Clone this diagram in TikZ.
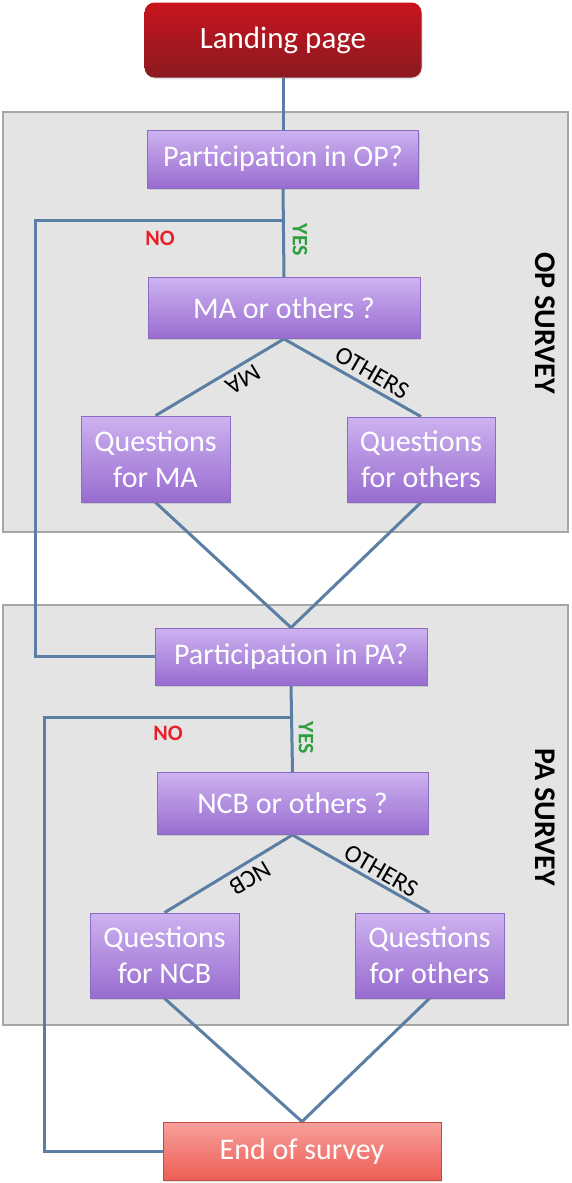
\documentclass[tikz,border=0pt]{standalone}
\usepackage{fontspec}
\setmainfont{Carlito}
\usetikzlibrary{shadows}
\definecolor{linkc}{HTML}{5B7EA4}
\definecolor{purtop}{HTML}{CDB2F0}
\definecolor{purbot}{HTML}{986CD0}
\definecolor{purdraw}{HTML}{8C6CC2}
\definecolor{panelfill}{HTML}{E4E4E4}
\definecolor{paneldraw}{HTML}{A6A6A6}
\definecolor{nored}{HTML}{E8202A}
\definecolor{yesgreen}{HTML}{2E9E3E}
\definecolor{landtop}{HTML}{C8141E}
\definecolor{landbot}{HTML}{8A1A20}
\definecolor{endtop}{HTML}{F7A09C}
\definecolor{endbot}{HTML}{EE5E55}
\pgfdeclarelayer{bg}
\pgfdeclarelayer{mid}
\pgfsetlayers{bg,mid,main}
\tikzset{
  pbox/.style={draw=purdraw, line width=0.8pt, top color=purtop, bottom color=purbot,
    text=white, font=\fontsize{30}{36}\selectfont, align=center, inner sep=0pt,
    drop shadow={opacity=0.25, shadow xshift=1pt, shadow yshift=-1.5pt}},
  landbox/.style={draw=none, rounded corners=10pt, top color=landtop, bottom color=landbot,
    text=white, font=\fontsize{31}{36}\selectfont, inner sep=0pt,
    drop shadow={opacity=0.25, shadow xshift=1pt, shadow yshift=-1.5pt}},
  endbox/.style={draw=endbot!80!black, line width=0.8pt, top color=endtop, bottom color=endbot,
    text=white, font=\fontsize{30}{36}\selectfont, inner sep=0pt,
    drop shadow={opacity=0.25, shadow xshift=1pt, shadow yshift=-1.5pt}},
  panel/.style={draw=paneldraw, line width=1.5pt, fill=panelfill, inner sep=0pt},
  link/.style={draw=linkc, line width=3pt},
  nolabel/.style={text=nored, font=\bfseries\fontsize{22}{22}\selectfont, inner sep=0pt},
  yeslabel/.style={text=yesgreen, font=\bfseries\fontsize{22}{22}\selectfont, inner sep=0pt, rotate=-90},
  branchlabel/.style={text=black, font=\fontsize{25}{25}\selectfont, inner sep=0pt},
  sectionlabel/.style={text=black, font=\bfseries\fontsize{30}{30}\selectfont, inner sep=0pt, rotate=-90}
}
\begin{document}
\begin{tikzpicture}[x=1pt,y=-1pt]
\useasboundingbox (0,0) rectangle (571,1183);
% panels
\begin{pgfonlayer}{bg}
\node[panel, minimum width=565pt, minimum height=420pt] (opp) at (285.5,322) {};
\node[panel, minimum width=565pt, minimum height=420pt] (pap) at (285.5,815) {};
\end{pgfonlayer}
\node[sectionlabel] (opl) at (545,323) {OP SURVEY};
\node[sectionlabel] (pal) at (545,817) {PA SURVEY};
% boxes
\node[landbox, minimum width=277pt, minimum height=75pt] (land) at (283,40) {Landing page};
\node[pbox, minimum width=271pt, minimum height=58pt] (opq) at (283,159) {Participation in OP?};
\node[pbox, minimum width=272pt, minimum height=61pt] (maq) at (284,308) {MA or others ?};
\node[pbox, minimum width=149pt, minimum height=86pt] (qma) at (155.5,459) {Questions\\for MA};
\node[pbox, minimum width=148pt, minimum height=85pt] (qoo) at (421,459.5) {Questions\\for others};
\node[pbox, minimum width=272pt, minimum height=57pt] (ppq) at (291,656.5) {Participation in PA?};
\node[pbox, minimum width=271pt, minimum height=62pt] (ncb) at (292.5,803.5) {NCB or others ?};
\node[pbox, minimum width=149pt, minimum height=85pt] (qncb) at (164.5,955.5) {Questions\\for NCB};
\node[pbox, minimum width=149pt, minimum height=85pt] (qop) at (429.5,955.5) {Questions\\for others};
\node[endbox, minimum width=278pt, minimum height=58pt] (endq) at (302,1151) {End of survey};
% junction coordinates
\coordinate (n1) at (35,220);
\coordinate (n2) at (44,717);
% connectors
\begin{pgfonlayer}{mid}
\draw[link] (land.south) -- (opq.north);
\draw[link] (opq.south) -- (maq.north);
\draw[link] (opq.south |- n1) -- (n1) |- (ppq.west);
\draw[link] (maq.south) -- (qma.north);
\draw[link] (maq.south) -- (qoo.north);
\draw[link] (qma.south) -- (ppq.north);
\draw[link] (qoo.south) -- (ppq.north);
\draw[link] (ppq.south) -- (ncb.north);
\draw[link] (ppq.south |- n2) -- (n2) |- (endq.west);
\draw[link] (ncb.south) -- (qncb.north);
\draw[link] (ncb.south) -- (qop.north);
\draw[link] (qncb.south) -- (endq.north);
\draw[link] (qop.south) -- (endq.north);
\end{pgfonlayer}
% labels
\node[nolabel] (no1) at (160,238) {NO};
\node[yeslabel] (yes1) at (300,240) {YES};
\node[branchlabel, rotate=211] (mal) at (243,380) {MA};
\node[branchlabel, rotate=-30] (oth1) at (372,373) {OTHERS};
\node[nolabel] (no2) at (168,733) {NO};
\node[yeslabel] (yes2) at (306,738) {YES};
\node[branchlabel, rotate=211] (ncbl) at (250,878) {NCB};
\node[branchlabel, rotate=-30] (oth2) at (381,871) {OTHERS};
\end{tikzpicture}
\end{document}
